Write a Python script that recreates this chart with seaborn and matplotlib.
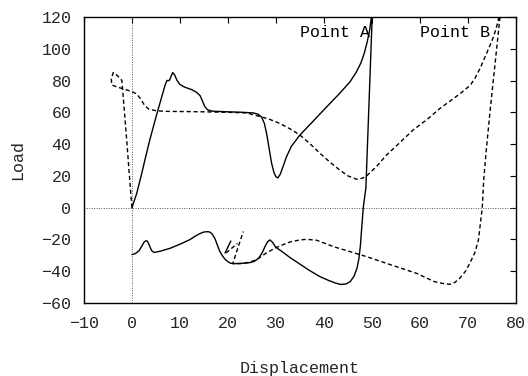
import matplotlib
matplotlib.use("Agg")
import matplotlib.pyplot as plt
import seaborn as sns
import pandas as pd

# ---- data ----
# solid curve (Point A loop)
solid_x = [0, 1, 2, 2.7, 3.75, 5.1, 6.9, 7.3, 7.8, 8.2, 8.5, 8.9, 9.4, 10, 11, 12.5, 13.5, 14.2, 14.7,
           15.2, 15.8, 16.8, 20, 23, 25.3, 26.3, 27.0, 27.6, 28.1, 28.6, 29.1, 29.6, 30.0, 30.4, 30.9,
           31.5, 32.2, 33.2, 35, 37, 40.6, 43, 45.4, 46.7, 47.7, 48.4, 49, 49.5, 49.9, 50.1,
           48.75, 48.2, 47.9, 47.6, 47.3, 46.9, 46.3, 45.5, 44.6, 43.5, 42.5, 41, 39.2, 37, 35, 33,
           31, 30, 29.3, 28.75, 28.3, 27.8, 27.2, 26.5, 25.5, 24.5, 23, 21.5, 20.6, 20, 19.4, 18.8,
           18.3, 17.8, 17.3, 16.7, 16.2, 15.7, 15, 14, 13, 12, 10, 8, 6, 4.6, 4.1, 3.6, 3.2, 2.9,
           2.5, 2.0, 1.5, 0.8, 0.3, 0]
solid_y = [0, 9, 21, 30, 43, 58, 77, 80, 80, 83, 85, 83.5, 80, 77.5, 75.8, 74.2, 72.5, 70.5, 67,
           63.5, 61.5, 60.7, 60.3, 60, 59.6, 58.8, 57, 53, 46, 37, 28, 22, 19.5, 18.7, 21,
           26, 32, 38.5, 45.7, 52, 63.5, 71, 79, 85, 91, 97, 104, 111, 120, 123,
           12.4, 0, -12, -24, -32, -38, -43, -46.5, -48, -48.3, -47.5, -45.8, -43.4, -39.5, -35.5, -31.5,
           -27, -25, -21.8, -20.3, -21.3, -24, -28, -31.5, -33.8, -34.6, -35, -35.2, -35, -34, -32.5, -30,
           -27.5, -23.5, -19.5, -16.5, -15.3, -15.1, -15.3, -16.5, -18.3, -20.2, -23, -25.5, -27.3, -28.2, -27, -23.5, -21, -20.8,
           -21.8, -24.5, -27, -28.7, -29.3, -29.5]

# dashed curve (Point B loop)
dashed_x = [0, -0.5, -1.0, -1.5, -2.1, -3.0, -3.9, -4.3, -4.2, -3.0, -1.5, 0, 1.0, 1.8, 2.6, 3.5, 5.0,
            7, 10, 15, 20, 23.9, 26.7, 28.5, 30.8, 33, 35, 37, 39.2, 41.3, 43.3, 45, 46.8, 48, 48.9,
            51, 53, 55.5, 58.6, 61.5, 64.2, 66.5, 68.5, 70.5, 71.5, 72.6, 73.6, 74.6, 75.4, 76, 76.5, 76.8,
            74.6, 73.8, 73.3, 73.0, 72.2, 71.5, 70.4, 69.5, 68.3, 67.3, 66.25, 65, 63, 59.3, 54, 48.9,
            42, 38.5, 36.4, 35, 33, 31.7, 30.1, 28, 26.3, 25.3, 24, 22.5, 21.0, 23.2]
dashed_y = [0, 19, 39, 58, 80, 83, 85, 81, 77.2, 75.8, 74.5, 73, 71.5, 68.5, 64.5, 62, 61,
            60.6, 60.5, 60.3, 60, 59.6, 57.3, 55.8, 53, 49.5, 45.7, 40.5, 34.2, 28.5, 23.7, 20, 17.9, 18.5, 20,
            26, 33, 40, 48.9, 55.5, 62.5, 67.5, 72, 77, 81.5, 88, 95, 102, 108, 114, 120, 123,
            60, 35, 17.4, 0, -20.3, -28, -35, -40, -44.4, -47, -48.2, -47.8, -46.5, -41.3, -36, -30.8,
            -24.5, -20.5, -19.9, -20.3, -21.5, -23, -25, -28.5, -32, -33.5, -34.6, -35.2, -35.2, -15]

# short extra strokes near x = 20
spike_solid_x = [19.4, 20.6]
spike_solid_y = [-28.5, -21]
spike_dashed_x = [19.6, 22.0]
spike_dashed_y = [-28.5, -22.5]

x_ticks = [-10, 0, 10, 20, 30, 40, 50, 60, 70, 80]
y_ticks = [-60, -40, -20, 0, 20, 40, 60, 80, 100, 120]
labels = [("Point A", 35.0), ("Point B", 60.0)]

# ---- plotting ----
sns.set_theme(style="white")
plt.rcParams["font.family"] = ["Liberation Mono", "DejaVu Sans"]
plt.rcParams["xtick.direction"] = "in"
plt.rcParams["ytick.direction"] = "in"

fig = plt.figure(figsize=(5.28, 3.76), dpi=100)
ax = fig.add_axes([0.159, 0.194, 0.818, 0.761])

# zero axes
ax.axhline(0, color="#555555", lw=0.7, ls=(0, (1, 1.5)), zorder=1)
ax.axvline(0, color="#555555", lw=0.7, ls=(0, (1, 1.5)), zorder=1)

def draw(xs, ys, dashed):
    df = pd.DataFrame({"x": xs, "y": ys})
    sns.lineplot(data=df, x="x", y="y", sort=False, estimator=None, ax=ax,
                 color="black", lw=1.0, zorder=3)
    if dashed:
        ax.lines[-1].set_dashes((3, 2))

draw(solid_x, solid_y, False)
draw(dashed_x, dashed_y, True)
draw(spike_solid_x, spike_solid_y, False)
draw(spike_dashed_x, spike_dashed_y, True)

for txt, xpos in labels:
    ax.text(xpos, 110.5, txt, fontsize=12, va="center", ha="left", color="black")

ax.set_xlim(-10, 80)
ax.set_ylim(-60, 120)
ax.set_xticks(x_ticks)
ax.set_yticks(y_ticks)
ax.set_xticklabels([str(v).replace("-", "\u2212") for v in x_ticks])
ax.set_yticklabels([str(v).replace("-", "\u2212") for v in y_ticks])
ax.tick_params(axis="both", which="major", length=4, width=0.8, color="black",
               labelsize=12, top=True, right=True)
ax.tick_params(axis="x", pad=9)
ax.tick_params(axis="y", pad=9)
for s in ax.spines.values():
    s.set_color("black")
    s.set_linewidth(1.0)

ax.set_xlabel("Displacement", fontsize=12, labelpad=22)
ax.set_ylabel("Load", fontsize=12, labelpad=12)

fig.savefig("out.png", dpi=100)
